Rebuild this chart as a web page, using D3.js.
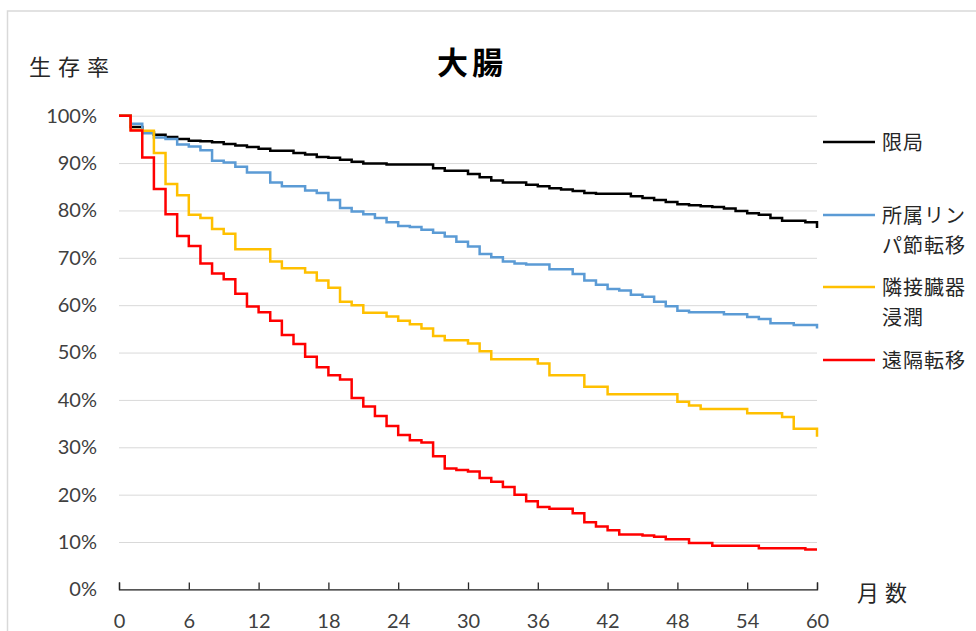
<!DOCTYPE html>
<html>
<head>
<meta charset="utf-8">
<script src="https://cdn.jsdelivr.net/npm/d3@7"></script>
<style>
  html, body { margin: 0; padding: 0; background: #fff; overflow: hidden; }
  svg { display: block; }
</style>
</head>
<body>
<div id="chart"></div>
<script>
// Months 0..60 (step values hold from month m to m+1)
const months = d3.range(0, 61);

const localized = [100, 97.6, 96.5, 96.0, 95.5, 95.1, 94.7, 94.6, 94.4, 94.0,
  93.7, 93.4, 93.0, 92.6, 92.6, 92.1, 91.8, 91.3, 91.1, 90.7,
  90.3, 89.9, 89.9, 89.7, 89.7, 89.7, 89.7, 88.9, 88.4, 88.4,
  87.7, 87.0, 86.3, 85.9, 85.9, 85.4, 85.1, 84.7, 84.4, 84.1,
  83.7, 83.5, 83.5, 83.5, 83.0, 82.6, 82.2, 81.8, 81.3, 81.1,
  80.9, 80.7, 80.4, 79.9, 79.4, 79.1, 78.4, 77.8, 77.8, 77.5, 76.3];

const regionalLymph = [100, 98.3, 96.3, 95.4, 95.1, 93.9, 93.5, 92.7, 90.5, 90.1,
  89.2, 88.0, 88.0, 85.9, 85.1, 85.1, 84.2, 83.7, 82.2, 80.5,
  79.8, 79.2, 78.4, 77.5, 76.7, 76.5, 75.9, 75.3, 74.5, 73.4,
  72.4, 70.8, 70.1, 69.2, 68.8, 68.6, 68.6, 67.6, 67.6, 66.6,
  65.2, 64.3, 63.4, 63.1, 62.2, 61.8, 60.7, 59.8, 58.8, 58.5,
  58.5, 58.5, 58.1, 58.1, 57.5, 57.1, 56.2, 56.2, 55.8, 55.8, 55.1];

const adjacentOrgan = [100, 97.0, 96.8, 92.1, 85.6, 83.2, 79.1, 78.4, 76.1, 75.1,
  71.8, 71.8, 71.8, 69.2, 67.8, 67.8, 66.9, 65.2, 63.7, 60.7,
  60.0, 58.4, 58.4, 57.6, 56.7, 56.0, 55.1, 53.5, 52.6, 52.6,
  51.9, 50.3, 48.6, 48.6, 48.6, 48.6, 47.7, 45.2, 45.2, 45.2,
  42.8, 42.8, 41.2, 41.2, 41.2, 41.2, 41.2, 41.2, 39.6, 38.8,
  38.1, 38.1, 38.1, 38.1, 37.2, 37.2, 37.2, 36.4, 33.9, 33.9, 32.2];

const distant = [100, 96.9, 91.2, 84.5, 79.2, 74.6, 72.5, 68.8, 66.7, 65.5,
  62.4, 59.7, 58.5, 56.7, 53.7, 51.8, 49.1, 46.9, 45.2, 44.3,
  40.4, 38.6, 36.6, 34.5, 32.6, 31.5, 31.0, 28.1, 25.5, 25.2,
  24.9, 23.5, 22.7, 21.6, 20.0, 18.6, 17.4, 17.0, 17.0, 16.1,
  14.2, 13.3, 12.5, 11.6, 11.6, 11.4, 11.1, 10.6, 10.6, 9.8,
  9.8, 9.2, 9.2, 9.2, 9.2, 8.7, 8.7, 8.7, 8.7, 8.4, 8.4];

const seriesNames = [["限局"], ["所属リン", "パ節転移"], ["隣接臓器", "浸潤"], ["遠隔転移"]];
const seriesValues = [localized, regionalLymph, adjacentOrgan, distant];
const seriesColors = ["#000000", "#5b9bd5", "#ffc000", "#ff0000"];

const xTicks = [0, 6, 12, 18, 24, 30, 36, 42, 48, 54, 60];
const yTicks = [0, 10, 20, 30, 40, 50, 60, 70, 80, 90, 100];

const width = 976, height = 631;
const plot = { left: 119, right: 817, top: 115.7, bottom: 589.4 };

const svg = d3.select("#chart")
  .append("svg")
  .attr("width", width)
  .attr("height", height);

// chart area frame
svg.append("rect")
  .attr("x", 7.5).attr("y", 11)
  .attr("width", 1000).attr("height", 700)
  .attr("fill", "#fff")
  .attr("stroke", "#d9d9d9")
  .attr("stroke-width", 1.5);

// scales
const x = d3.scaleLinear().domain([0, 60]).range([plot.left, plot.right]);
const y = d3.scaleLinear().domain([0, 100]).range([plot.bottom, plot.top]);

const numFont = "Lato, 'Liberation Sans', sans-serif";
const jpFont = "'Noto Sans CJK JP', sans-serif";

// y gridlines + labels
const yAxis = svg.append("g")
  .attr("transform", `translate(${plot.left},0)`)
  .call(d3.axisLeft(y)
    .tickValues(yTicks)
    .tickSize(-(plot.right - plot.left))
    .tickPadding(22)
    .tickFormat(d => d + "%"));
yAxis.select(".domain").remove();
yAxis.selectAll(".tick line")
  .attr("stroke", "#d9d9d9")
  .attr("stroke-width", 1);
yAxis.selectAll(".tick text")
  .attr("fill", "#404040")
  .attr("font-family", numFont)
  .attr("font-size", "20px");

// x axis
const xAxis = svg.append("g")
  .attr("transform", `translate(0,${plot.bottom})`)
  .call(d3.axisBottom(x)
    .tickValues(xTicks)
    .tickSize(-7)
    .tickSizeOuter(-7)
    .tickPadding(24));
xAxis.select(".domain")
  .attr("stroke", "#262626")
  .attr("stroke-width", 1.3);
xAxis.selectAll(".tick line")
  .attr("stroke", "#262626")
  .attr("stroke-width", 1.3);
xAxis.selectAll(".tick text")
  .attr("fill", "#404040")
  .attr("font-family", numFont)
  .attr("font-size", "20px");

// survival curves
const line = d3.line()
  .x((d, i) => x(months[i]))
  .y(d => y(d))
  .curve(d3.curveStepAfter);

svg.selectAll(".curve")
  .data(seriesValues)
  .enter()
  .append("path")
  .attr("class", "curve")
  .attr("fill", "none")
  .attr("stroke", (d, i) => seriesColors[i])
  .attr("stroke-width", 2.5)
  .attr("d", d => line(d));

// title and axis titles
svg.append("text")
  .attr("x", 472).attr("y", 74)
  .attr("text-anchor", "middle")
  .attr("font-family", jpFont)
  .attr("font-weight", "bold")
  .attr("font-size", "31px")
  .attr("letter-spacing", "4px")
  .attr("fill", "#000")
  .text("大腸");

svg.append("text")
  .attr("x", 29).attr("y", 75)
  .attr("font-family", jpFont)
  .attr("font-size", "22px")
  .attr("letter-spacing", "7px")
  .attr("fill", "#262626")
  .text("生存率");

svg.append("text")
  .attr("x", 857).attr("y", 601)
  .attr("font-family", jpFont)
  .attr("font-size", "22px")
  .attr("letter-spacing", "6px")
  .attr("fill", "#262626")
  .text("月数");

// legend
const legendY = [142, 215, 287, 360];
const legend = svg.selectAll(".legend")
  .data(seriesNames)
  .enter()
  .append("g")
  .attr("class", "legend")
  .attr("transform", (d, i) => `translate(823,${legendY[i]})`);

legend.append("line")
  .attr("x1", 0).attr("x2", 52)
  .attr("y1", 0).attr("y2", 0)
  .attr("stroke", (d, i) => seriesColors[i])
  .attr("stroke-width", 2.5);

legend.append("text")
  .attr("font-family", jpFont)
  .attr("font-size", "20px")
  .attr("letter-spacing", "1px")
  .attr("fill", "#262626")
  .selectAll("tspan")
  .data(d => d)
  .enter()
  .append("tspan")
  .attr("x", 59)
  .attr("y", (d, i) => 8 + i * 30)
  .text(d => d);
</script>
</body>
</html>
